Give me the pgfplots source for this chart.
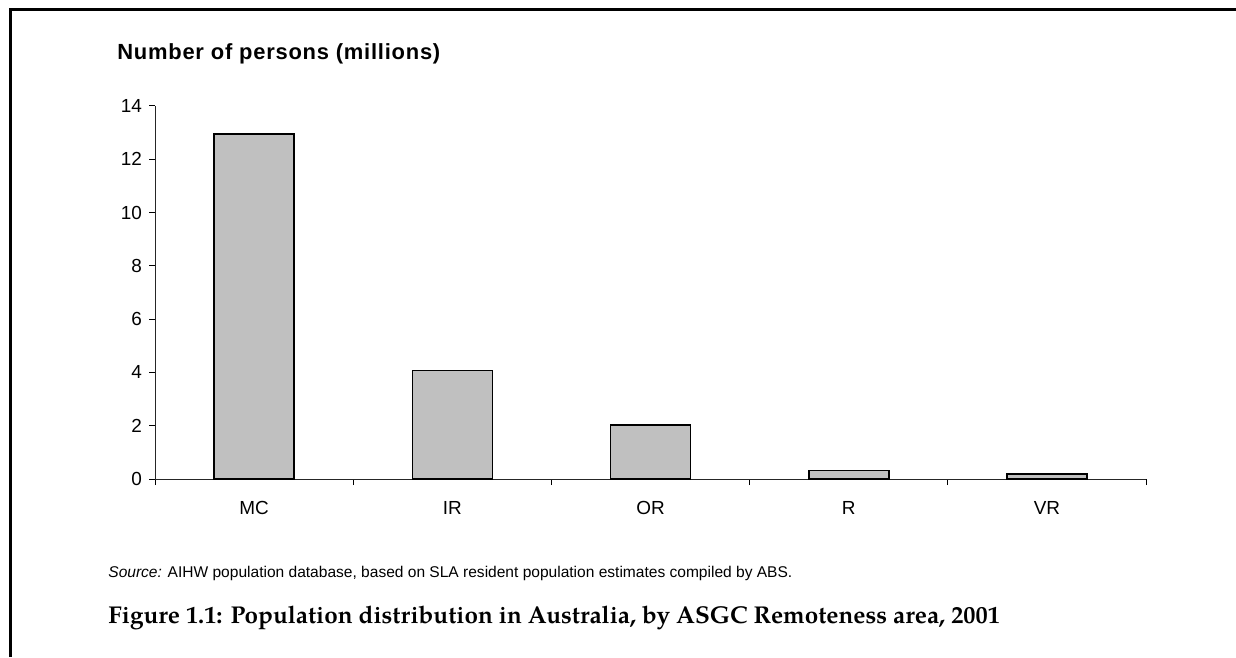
\documentclass[border=0pt]{standalone}
\usepackage{fontspec}
\setmainfont{Liberation Sans}
\newfontfamily\capfont{TeX Gyre Pagella}
\newfontfamily\titlefont[LetterSpace=3.5]{Liberation Sans}
\usepackage{pgfplots}
\pgfplotsset{compat=1.18}
\definecolor{bargray}{RGB}{192,192,192}
\begin{document}
\begin{tikzpicture}[x=1bp,y=1bp]
\useasboundingbox (0,0) rectangle (618,328.5);
\draw[line width=1.5bp] (5,0) -- (5,323.5) -- (618,323.5);
\begin{axis}[
  at={(77.5bp,89bp)}, anchor=south west,
  scale only axis, width=495.5bp, height=186.5bp,
  xmin=-0.5, xmax=4.5, ymin=0, ymax=14,
  axis x line=bottom, axis y line=left,
  axis line style={-, line width=0.5bp, black!85},
  ytick={0,2,...,14},
  xtick={0,1,2,3,4}, xticklabels={MC,IR,OR,R,VR},
  major x tick style={draw=none},
  minor xtick={-0.5,0.5,1.5,2.5,3.5,4.5},
  minor x tick style={draw=black, line width=0.5bp},
  major y tick style={draw=black, line width=0.5bp},
  tick align=outside, major tick length=3bp, minor tick length=3bp,
  ticklabel style={font=\fontsize{9.5}{11}\selectfont},
  xticklabel style={yshift=-4.5bp},
  /pgf/number format/assume math mode=true,
  ybar, bar width=40bp,
  clip=false,
]
\addplot[fill=bargray, draw=black, line width=0.8bp] coordinates {(0,12.95) (1,4.07) (2,2.02) (3,0.32) (4,0.18)};
\end{axis}
\node[anchor=west, inner sep=0, font=\fontsize{11}{13}\selectfont\titlefont\bfseries] at (58.5,301.5) {Number of persons (millions)};
\node[anchor=west, inner sep=0, font=\fontsize{7.8}{9}\selectfont] at (54,42) {\textit{Source:} AIHW population database, based on SLA resident population estimates compiled by ABS.};
\node[anchor=west, inner sep=0, font=\fontsize{12.2}{14}\selectfont\capfont\bfseries] at (54,19.5) {Figure 1.1: Population distribution in Australia, by ASGC Remoteness area, 2001};
\end{tikzpicture}
\end{document}
